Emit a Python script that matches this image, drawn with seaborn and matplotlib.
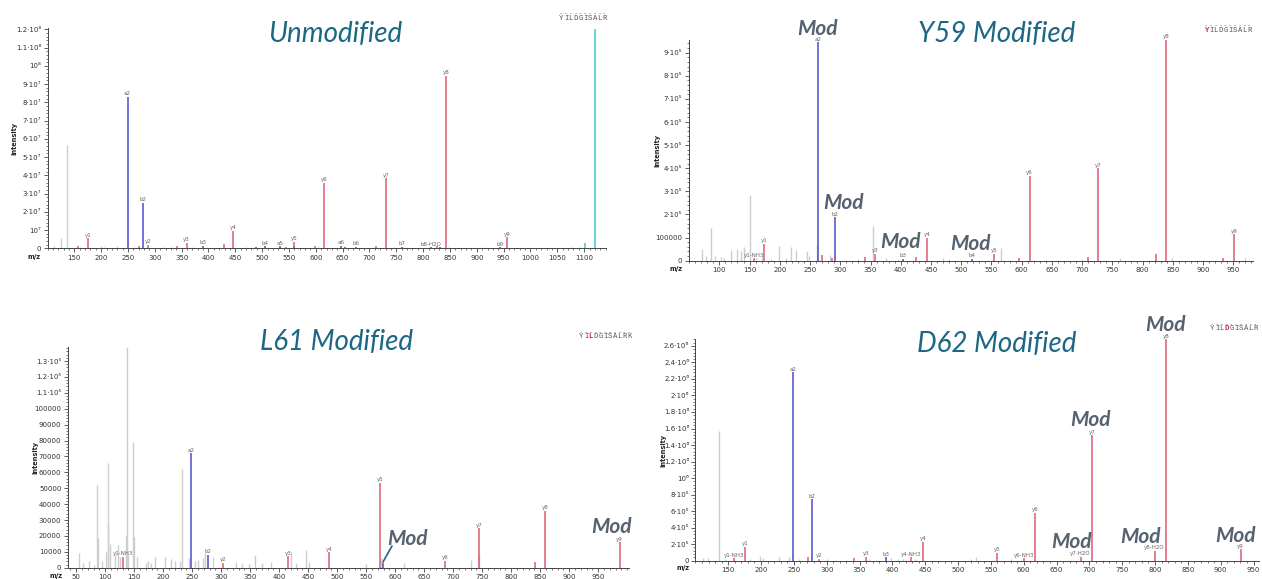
import numpy as np
import matplotlib
matplotlib.use("Agg")
import matplotlib.pyplot as plt
import seaborn as sns
from matplotlib.ticker import MultipleLocator

W, H = 1262, 579
sns.set_theme(style="white")
plt.rcParams['font.family'] = ['DejaVu Sans']

# ---------------- data ----------------
# Panel 1: Unmodified (intensity)
p1_gray_mz = [112, 125, 137, 160, 199, 205, 229, 262, 317, 330, 372, 410, 470, 520, 580, 605, 640, 700, 745, 790, 847, 872, 910, 1000, 1076, 1090]
p1_gray_int = [0.10e7, 0.55e7, 5.66e7, 0.08e7, 0.12e7, 0.06e7, 0.12e7, 0.05e7, 0.07e7, 0.05e7, 0.06e7, 0.04e7, 0.05e7, 0.04e7,
               0.04e7, 0.05e7, 0.04e7, 0.03e7, 0.05e7, 0.03e7, 0.08e7, 0.03e7, 0.05e7, 0.03e7, 0.05e7, 0.05e7]
p1_b_mz = [249.2, 277.2, 390.2, 488, 505, 534, 560, 647, 655, 674, 761, 815, 832, 944]
p1_b_int = [8.31e7, 2.50e7, 0.15e7, 0.05e7, 0.10e7, 0.10e7, 0.12e7, 0.15e7, 0.05e7, 0.08e7, 0.08e7, 0.05e7, 0.08e7, 0.05e7]
p1_b_lab = ["a2", "b2", "b3", "", "b4", "a5", "", "a6", "", "b6", "b7", "b8-H2O", "", "b9"]
p1_y_mz = [157, 175.1, 270, 288.2, 342, 359.2, 428, 446.3, 545, 559.4, 598, 616, 712, 730.5, 826, 843, 956]
p1_y_int = [0.12e7, 0.55e7, 0.15e7, 0.18e7, 0.12e7, 0.30e7, 0.25e7, 0.97e7, 0.05e7, 0.35e7, 0.10e7, 3.60e7, 0.15e7, 3.84e7,
            0.10e7, 9.44e7, 0.60e7]
p1_y_lab = ["", "y1", "", "y2", "", "y3", "", "y4", "", "y5", "", "y6", "", "y7", "", "y8", "y9"]
p1_p_mz = [1102, 1119.5]
p1_p_int = [0.28e7, 12.0e7]
p1_yticks = [0, 1e7, 2e7, 3e7, 4e7, 5e7, 6e7, 7e7, 8e7, 9e7, 1e8, 1.1e8, 1.2e8]
p1_yticklabels = ["0", "10⁷", "2·10⁷", "3·10⁷", "4·10⁷", "5·10⁷", "6·10⁷", "7·10⁷", "8·10⁷", "9·10⁷", "10⁸", "1.1·10⁸", "1.2·10⁸"]
p1_xticks = list(range(150, 1101, 50))

# Panel 2: Y59 Modified
p2_gray_mz = [71, 78, 86, 93, 102, 108, 120, 129, 135, 140, 151.3, 160, 170, 185, 198.5, 210, 218.5, 226, 244.5, 248, 262, 283,
              310, 330, 354, 375, 395, 420, 470, 480, 545, 565, 640, 700, 762, 849, 900, 970]
p2_gray_int = [0.50e5, 0.20e5, 1.43e5, 0.20e5, 0.18e5, 0.12e5, 0.45e5, 0.50e5, 0.42e5, 0.60e5, 2.84e5, 0.10e5, 0.15e5, 0.08e5,
               0.62e5, 0.10e5, 0.58e5, 0.48e5, 0.40e5, 0.20e5, 0.70e5, 0.25e5, 0.05e5, 0.08e5, 1.50e5, 0.10e5, 0.06e5, 0.05e5,
               0.10e5, 0.08e5, 0.05e5, 0.55e5, 0.05e5, 0.06e5, 0.12e5, 0.12e5, 0.05e5, 0.10e5]
p2_b_mz = [263.8, 291.0, 404.5, 518.0]
p2_b_int = [9.45e5, 1.88e5, 0.08e5, 0.08e5]
p2_b_lab = ["a2", "b2", "b3", "b4"]
p2_y_mz = [158, 174, 269, 286, 341, 357, 426, 443.5, 555, 595, 613, 710, 726.5, 822, 839, 933.5, 951.5]
p2_y_int = [0.10e5, 0.74e5, 0.25e5, 0.10e5, 0.15e5, 0.30e5, 0.17e5, 1.00e5, 0.30e5, 0.10e5, 3.68e5, 0.15e5, 4.00e5, 0.28e5,
            9.55e5, 0.10e5, 1.14e5]
p2_y_lab = ["y1-NH3", "y1", "", "", "", "y3", "", "y4", "y5", "", "y6", "", "y7", "", "y8", "", "y9"]
p2_yticks = [0, 1e5, 2e5, 3e5, 4e5, 5e5, 6e5, 7e5, 8e5, 9e5]
p2_yticklabels = ["0", "100000", "2·10⁵", "3·10⁵", "4·10⁵", "5·10⁵", "6·10⁵", "7·10⁵", "8·10⁵", "9·10⁵"]
p2_xticks = list(range(100, 951, 50))

# Panel 3: L61 Modified
p3_gray_mz = [55.5, 62, 72, 80, 86, 86.8, 95, 101, 104, 105, 108, 116, 121.5, 125, 136.7, 136, 140, 148.5, 150, 155, 170, 173,
              178, 186, 203, 214, 220, 228, 233, 244, 255, 260, 268.5, 272, 286, 326, 335, 348, 357.5, 370, 386.5, 421, 428,
              445.5, 452, 550, 576, 615.5, 730, 744]
p3_gray_int = [0.9e4, 0.3e4, 0.45e4, 0.2e4, 5.2e4, 1.85e4, 0.4e4, 1.0e4, 6.56e4, 2.75e4, 1.5e4, 0.8e4, 1.4e4, 0.7e4, 13.9e4,
               2.0e4, 0.8e4, 7.92e4, 1.9e4, 0.7e4, 0.3e4, 0.4e4, 0.3e4, 0.7e4, 0.7e4, 0.55e4, 0.45e4, 0.4e4, 6.2e4, 0.6e4,
               0.4e4, 0.5e4, 0.6e4, 0.9e4, 0.7e4, 0.35e4, 0.25e4, 0.25e4, 0.8e4, 0.3e4, 0.35e4, 1.0e4, 0.3e4, 1.1e4, 0.35e4,
               0.25e4, 0.6e4, 0.3e4, 0.5e4, 0.85e4]
p3_b_mz = [248.5, 276.9, 579]
p3_b_int = [7.19e4, 0.80e4, 0.30e4]
p3_b_lab = ["a2", "b2", ""]
p3_y_mz = [129.8, 302.6, 415, 486.4, 574, 686, 744, 841, 858.4, 986.7]
p3_y_int = [0.70e4, 0.30e4, 0.73e4, 0.96e4, 5.35e4, 0.45e4, 2.47e4, 0.35e4, 3.58e4, 1.60e4]
p3_y_lab = ["y1-NH3", "y2", "y3", "y4", "y5", "y6", "y7", "", "y8", "y9"]
p3_yticks = [0, 1e4, 2e4, 3e4, 4e4, 5e4, 6e4, 7e4, 8e4, 9e4, 1e5, 1.1e5, 1.2e5, 1.3e5]
p3_yticklabels = ["0", "10000", "20000", "30000", "40000", "50000", "60000", "70000", "80000", "90000", "100000",
                  "1.1·10⁵", "1.2·10⁵", "1.3·10⁵"]
p3_xticks = list(range(50, 951, 50))

# Panel 4: D62 Modified
p4_gray_mz = [112, 119, 136.5, 145, 160, 183, 199, 203, 228, 242, 258, 300, 312, 330, 365, 375, 398, 408, 416, 420, 435, 520,
              528, 580, 610, 720, 780]
p4_gray_int = [0.35e5, 0.3e5, 15.7e5, 0.2e5, 0.1e5, 0.15e5, 0.6e5, 0.3e5, 0.4e5, 0.5e5, 0.15e5, 0.2e5, 0.1e5, 0.1e5, 0.2e5,
               0.1e5, 0.35e5, 0.2e5, 0.15e5, 0.1e5, 0.2e5, 0.2e5, 0.4e5, 0.15e5, 0.1e5, 0.12e5, 0.1e5]
p4_b_mz = [249.2, 277.4, 390]
p4_b_int = [22.8e5, 7.43e5, 0.40e5]
p4_b_lab = ["a2", "b2", "b3"]
p4_y_mz = [159, 176, 271, 288, 342, 359.5, 429, 446.5, 559, 600, 617, 686.6, 704.4, 799.3, 816.5, 930.4]
p4_y_int = [0.30e5, 1.66e5, 0.40e5, 0.20e5, 0.35e5, 0.45e5, 0.40e5, 2.26e5, 0.97e5, 0.30e5, 5.81e5, 0.48e5, 15.2e5, 1.17e5,
            26.8e5, 1.37e5]
p4_y_lab = ["y1-NH3", "y1", "", "y2", "", "y3", "y4-NH3", "y4", "y5", "y6-NH3", "y6", "y7-H2O", "y7", "y8-H2O", "y8", "y9"]
p4_yticks = [0, 2e5, 4e5, 6e5, 8e5, 1e6, 1.2e6, 1.4e6, 1.6e6, 1.8e6, 2e6, 2.2e6, 2.4e6, 2.6e6]
p4_yticklabels = ["0", "2·10⁵", "4·10⁵", "6·10⁵", "8·10⁵", "10⁶", "1.2·10⁶", "1.4·10⁶", "1.6·10⁶", "1.8·10⁶", "2·10⁶",
                  "2.2·10⁶", "2.4·10⁶", "2.6·10⁶"]
p4_xticks = list(range(150, 951, 50))

titles = ["Unmodified", "Y59 Modified", "L61 Modified", "D62 Modified"]
sequences = ["YILDGISALR", "YILDGISALR", "YILDGISALRK", "YILDGISALR"]
mod_residue = [None, 0, 2, 3]

# ---------------- style ----------------
C_GRAY = "#cdcdcd"
C_BLUE = "#4a4ad0"
C_RED = "#de5b70"
C_CYAN = "#3cc6cf"
C_TITLE = "#1c6784"
C_MOD = "#56626f"
C_AX = "#444444"

fig = plt.figure(figsize=(W / 100, H / 100), dpi=100)


def fx(x):
    return x / W


def fy(y):
    return 1 - y / H


def make_axes(l, t, r, b):
    return fig.add_axes([fx(l), fy(b), (r - l) / W, (b - t) / H])


panels = [
    dict(box=(47.5, 28.3, 605.6, 248.3), xlim=(100, 1140), ylim=(0, 1.2055e8),
         gray=(p1_gray_mz, p1_gray_int), b=(p1_b_mz, p1_b_int, p1_b_lab), y=(p1_y_mz, p1_y_int, p1_y_lab),
         p=(p1_p_mz, p1_p_int), yt=(p1_yticks, p1_yticklabels), xt=p1_xticks,
         mz=(34, 257), inten=(14, 138), title=(335, 42), seq=(559, 18)),
    dict(box=(688.5, 40, 1252.7, 260.7), xlim=(49, 982), ylim=(0, 9.55e5),
         gray=(p2_gray_mz, p2_gray_int), b=(p2_b_mz, p2_b_int, p2_b_lab), y=(p2_y_mz, p2_y_int, p2_y_lab),
         p=None, yt=(p2_yticks, p2_yticklabels), xt=p2_xticks,
         mz=(676, 269), inten=(657, 150), title=(997, 42), seq=(1204, 30)),
    dict(box=(67.6, 346.7, 629, 567.7), xlim=(35, 1003), ylim=(0, 1.39e5),
         gray=(p3_gray_mz, p3_gray_int), b=(p3_b_mz, p3_b_int, p3_b_lab), y=(p3_y_mz, p3_y_int, p3_y_lab),
         p=None, yt=(p3_yticks, p3_yticklabels), xt=p3_xticks,
         mz=(56, 576), inten=(35, 457), title=(337, 350), seq=(579, 337)),
    dict(box=(695.4, 339.3, 1258.8, 560.7), xlim=(100, 958), ylim=(0, 2.68e6),
         gray=(p4_gray_mz, p4_gray_int), b=(p4_b_mz, p4_b_int, p4_b_lab), y=(p4_y_mz, p4_y_int, p4_y_lab),
         p=None, yt=(p4_yticks, p4_yticklabels), xt=p4_xticks,
         mz=(683, 568), inten=(663, 450), title=(997, 352), seq=(1210, 329)),
]

for i, P in enumerate(panels):
    ax = make_axes(*P["box"])
    ax.set_facecolor("white")
    gmz, gint = P["gray"]
    ax.vlines(gmz, 0, gint, color=C_GRAY, lw=1.0)
    bmz, bint, blab = P["b"]
    ymz, yint, ylab = P["y"]
    ax.vlines(bmz, 0, bint, color=C_BLUE, lw=1.1)
    ax.vlines(ymz, 0, yint, color=C_RED, lw=1.1)
    if P["p"] is not None:
        ax.vlines(P["p"][0], 0, P["p"][1], color=C_CYAN, lw=1.1)
    for m, v, lab in list(zip(bmz, bint, blab)) + list(zip(ymz, yint, ylab)):
        if lab:
            ax.annotate(lab, (m, v), xytext=(0, 0.4), textcoords="offset points", ha="center", va="bottom",
                        fontsize=4.0, color="#666666", annotation_clip=False)
    ax.set_xlim(*P["xlim"])
    ax.set_ylim(*P["ylim"])
    ax.set_xticks(P["xt"])
    ax.set_xticklabels([str(v) for v in P["xt"]], fontsize=5, color="#333333")
    ax.xaxis.set_minor_locator(MultipleLocator(10))
    ax.set_yticks(P["yt"][0])
    ax.set_yticklabels(P["yt"][1], fontsize=5, color="#333333")
    step = P["yt"][0][1] - P["yt"][0][0]
    ax.yaxis.set_minor_locator(MultipleLocator(step / 5))
    ax.tick_params(axis="both", which="major", direction="out", length=3, width=0.6, color=C_AX, pad=1.5,
                   bottom=True, left=True)
    ax.tick_params(axis="both", which="minor", direction="out", length=1.5, width=0.5, color=C_AX,
                   bottom=True, left=True)
    sns.despine(ax=ax)
    for s in ["left", "bottom"]:
        ax.spines[s].set_color(C_AX)
        ax.spines[s].set_linewidth(0.7)
    ax.grid(False)
    fig.text(fx(P["mz"][0]), fy(P["mz"][1]), "m/z", fontsize=4.8, fontweight="bold", ha="center", va="center",
             color="#222222")
    fig.text(fx(P["inten"][0]), fy(P["inten"][1]), "Intensity", fontsize=4.8, fontweight="bold", ha="center",
             va="center", rotation=90, color="#222222")
    fig.text(fx(P["title"][0]), fy(P["title"][1]), titles[i], fontsize=20, family="Lato", style="italic",
             color=C_TITLE, ha="center", va="baseline")
    # peptide sequence label
    sx, sy = P["seq"]
    for k, ch in enumerate(sequences[i]):
        col = "#d0204a" if mod_residue[i] == k else "#555555"
        fig.text(fx(sx + k * 4.8), fy(sy), ch, fontsize=5.2, family="Liberation Mono", color=col,
                 ha="left", va="center", fontweight="bold" if mod_residue[i] == k else "normal")
        fig.text(fx(sx + k * 4.8), fy(sy - 4.5), "-", fontsize=5, family="Liberation Mono", color="#888888",
                 ha="left", va="center")

# "Mod" annotations (pixel positions of text baselines)
mod_labels = [(817, 35), (843, 209), (900, 248), (970, 250),
              (407, 545), (611, 533),
              (1165, 331), (1090, 426), (1071, 548), (1140, 543), (1235, 542)]
for (x, y) in mod_labels:
    fig.text(fx(x), fy(y), "Mod", fontsize=15, family="Lato", style="italic", fontweight="bold",
             color=C_MOD, ha="center", va="baseline")

# connector line in L61 panel
fig.add_artist(plt.Line2D([fx(392), fx(383)], [fy(546), fy(562)], color=C_TITLE, lw=1.2))

fig.savefig("out.png", dpi=100)
